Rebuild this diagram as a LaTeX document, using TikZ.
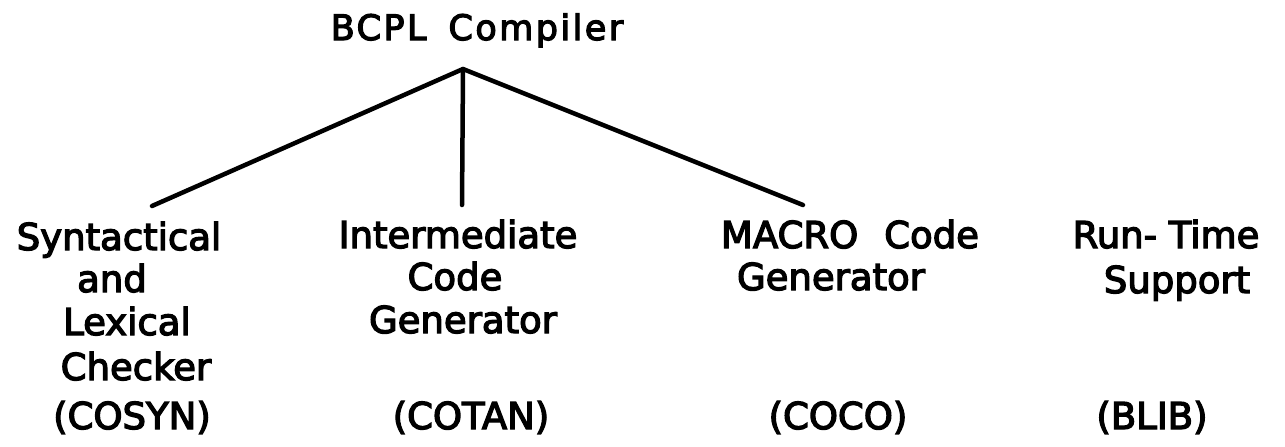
\documentclass[tikz,border=0pt]{standalone}
\usepackage{fontspec}
\setmainfont{DejaVu Sans}
\newfontfamily\lett[FakeBold=3.5]{DejaVu Sans}
\newfontfamily\titlelett[FakeBold=3.5,LetterSpace=7]{DejaVu Sans}
\begin{document}
\begin{tikzpicture}[x=1pt,y=-1pt,
  lbl/.style={anchor=base,inner sep=0pt,font=\lett\fontsize{37}{44}\selectfont},
  ttl/.style={anchor=base,inner sep=0pt,font=\titlelett\fontsize{35}{40}\selectfont},
  branch/.style={line width=4.5pt,line cap=round,line join=round}]
\useasboundingbox (0,0) rectangle (1285,447);
% root
\node[ttl] (root) at (477,40) {BCPL\hspace*{22pt}Compiler};
\coordinate (apex) at (463,69);
% column 1
\node[lbl] (c1a) at (119,250) {Syntactical};
\node[lbl] (c1b) at (112,292) {and};
\node[lbl] (c1c) at (127,335) {Lexical};
\node[lbl] (c1d) at (136,380) {Checker};
\node[lbl] (c1e) at (132,429) {(COSYN)};
% column 2
\node[lbl] (c2a) at (458,248) {Intermediate};
\node[lbl] (c2b) at (455,290) {Code};
\node[lbl] (c2c) at (463,333) {Generator};
\node[lbl] (c2e) at (471,429) {(COTAN)};
% column 3
\node[lbl] (c3a) at (850,248) {MACRO\hspace*{26pt}Code};
\node[lbl] (c3b) at (831,290) {Generator};
\node[lbl] (c3e) at (838,429) {(COCO)};
% column 4
\node[lbl] (c4a) at (1166,248) {Run- Time};
\node[lbl] (c4b) at (1177,293) {Support};
\node[lbl] (c4e) at (1152,429) {(BLIB)};
% branch ends
\coordinate (e1) at (152,206);
\coordinate (e2) at (462,205);
\coordinate (e3) at (803,205);
\draw[branch] (e1) -- (apex) -- (e3);
\draw[branch] (apex) -- (e2);
\end{tikzpicture}
\end{document}
